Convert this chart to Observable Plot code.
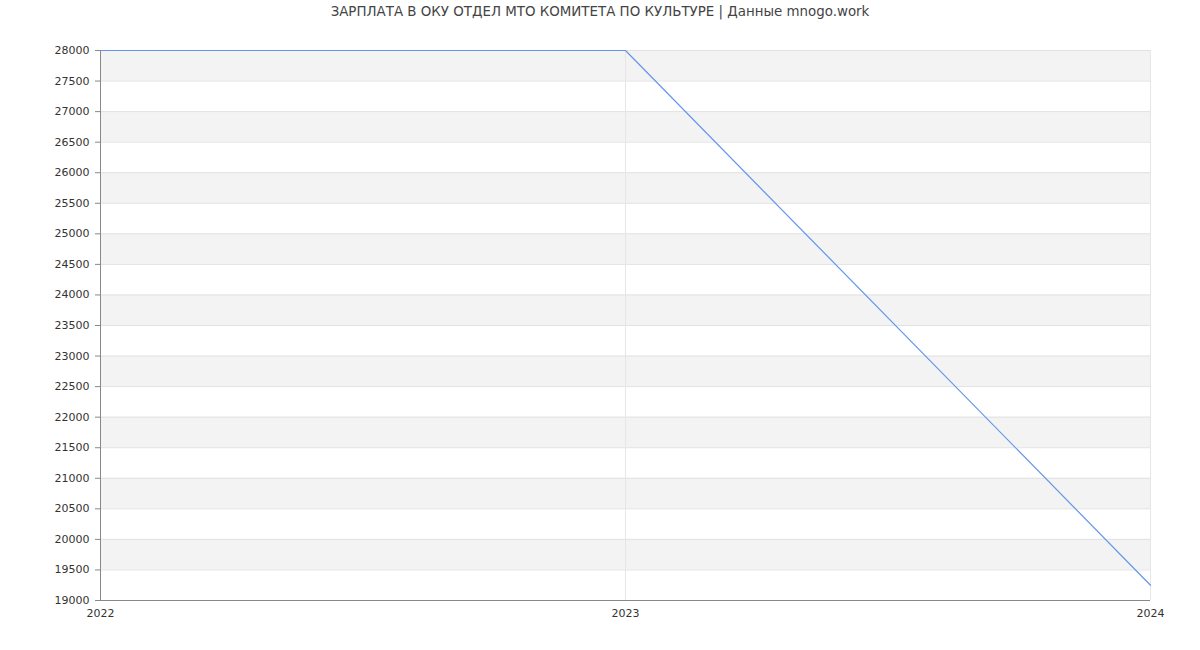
<!DOCTYPE html>
<html>
<head>
<meta charset="utf-8">
<script src="https://cdn.jsdelivr.net/npm/d3@7"></script>
<script src="https://cdn.jsdelivr.net/npm/@observablehq/plot@0.6"></script>
<style>
  body { margin: 0; background: #fff; font-family: "DejaVu Sans", sans-serif; }
  #wrap { position: relative; width: 1200px; height: 650px; }
  #title { position: absolute; top: 4px; left: 0; width: 1200px; text-align: center; font-size: 13.4px; color: #444; }
  #chart { position: absolute; top: 0; left: 0; }
</style>
</head>
<body>
<div id="wrap">
  <div id="chart"></div>
  <div id="title">ЗАРПЛАТА В ОКУ ОТДЕЛ МТО КОМИТЕТА ПО КУЛЬТУРЕ | Данные mnogo.work</div>
</div>
<script>
const years = [2022, 2023, 2024];
const salaries = [28000, 28000, 19250];
const yTicks = d3.range(19000, 28001, 500);
const bandStarts = d3.range(19500, 28000, 1000);

const data = years.map((y, i) => ({year: y, value: salaries[i]}));
const bands = bandStarts.map(s => ({y1: s, y2: s + 500}));

const chart = Plot.plot({
  width: 1200,
  height: 650,
  marginLeft: 100,
  marginRight: 50,
  marginTop: 50,
  marginBottom: 50,
  style: {fontFamily: "DejaVu Sans, sans-serif", fontSize: "11px", color: "#333", background: "transparent"},
  x: {domain: [2022, 2024], label: null},
  y: {domain: [19000, 28000], label: null},
  marks: [
    Plot.rectY(bands, {x1: 2022, x2: 2024, y1: "y1", y2: "y2", fill: "#f3f3f3"}),
    Plot.ruleY(yTicks, {stroke: "#e2e2e2", strokeWidth: 1}),
    Plot.ruleX(years, {stroke: "#e6e6e6", strokeWidth: 1}),
    Plot.line(data, {x: "year", y: "value", stroke: "#6495ed", strokeWidth: 1.2}),
    Plot.axisY({ticks: yTicks, tickFormat: d => String(d), tickSize: 5, tickPadding: 6, stroke: "#888", color: "#333", label: null}),
    Plot.axisX({ticks: years, tickFormat: d => String(d), tickSize: 0, tickPadding: 9, color: "#333", label: null}),
    Plot.ruleX([2022], {stroke: "#888"}),
    Plot.ruleY([19000], {stroke: "#888"})
  ]
});
document.getElementById("chart").appendChild(chart);
</script>
</body>
</html>
